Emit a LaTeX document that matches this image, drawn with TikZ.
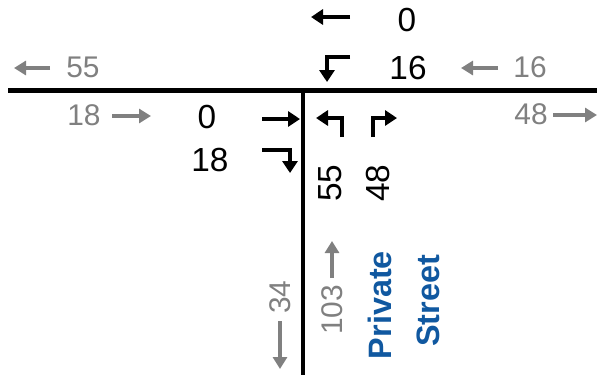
\documentclass[tikz,border=0pt]{standalone}
\usepackage{fontspec}
\setmainfont{Liberation Sans}
\usetikzlibrary{arrows.meta}
\definecolor{grayc}{RGB}{128,128,128}
\definecolor{bluec}{RGB}{16,88,160}
\tikzset{
  road/.style={line width=4.5bp},
  bk/.style={line width=3.5bp, line join=miter, -{Triangle[length=12bp,width=15bp]}},
  gr/.style={line width=3.5bp, draw=grayc, -{Triangle[length=12bp,width=14bp]}},
  bnum/.style={font=\fontsize{33.5}{33.5}\selectfont, inner sep=0pt},
  gnum/.style={font=\fontsize{30}{30}\selectfont, text=grayc, inner sep=0pt},
  streetlbl/.style={font=\bfseries\fontsize{32.5}{32.5}\selectfont, text=bluec, rotate=90, inner sep=0pt}
}
\begin{document}
\begin{tikzpicture}[x=1bp,y=-1bp]
\useasboundingbox (0,0) rectangle (597,375);
% roads
\coordinate (rl) at (8,90.5);
\coordinate (rr) at (597,90.5);
\coordinate (vt) at (303,88.25);
\coordinate (vb) at (303,375);
\draw[road] (rl) -- (rr);
\draw[road] (vt) -- (vb);
% westbound (top)
\node[bnum] (wbT) at (407,20) {0};
\draw[bk] (350,17) -- (311,17);
\node[bnum] (wbL) at (408,68) {16};
\draw[bk] (350,57) -- (327,57) -- (327,82);
\node[gnum] (wbIn) at (530,67) {16};
\draw[gr] (498,68) -- (461,68);
\node[gnum] (wbOut) at (83,67) {55};
\draw[gr] (50,68) -- (14,68);
% eastbound (left)
\node[gnum] (ebIn) at (84,115) {18};
\draw[gr] (112,116) -- (151,116);
\node[bnum] (ebT) at (207,117) {0};
\draw[bk] (262,119) -- (300,119);
\node[bnum] (ebR) at (210,160) {18};
\draw[bk] (262,150) -- (290,150) -- (290,173);
\node[gnum] (ebOut) at (531,114) {48};
\draw[gr] (553,115) -- (597,115);
% northbound (private street)
\draw[bk] (342,137) -- (342,118) -- (316,118);
\draw[bk] (373,137) -- (373,118) -- (397,118);
\node[bnum, rotate=90] (nbL) at (330,183) {55};
\node[bnum, rotate=90] (nbR) at (378,183) {48};
\node[gnum, rotate=90] (sbOut) at (280,297) {34};
\draw[gr] (280,321) -- (280,369);
\node[gnum, rotate=90] (nbIn) at (332,310) {103};
\draw[gr] (332,278) -- (332,241);
\node[streetlbl] (priv) at (380,305) {Private};
\node[streetlbl] (strt) at (428,301) {Street};
\end{tikzpicture}
\end{document}
